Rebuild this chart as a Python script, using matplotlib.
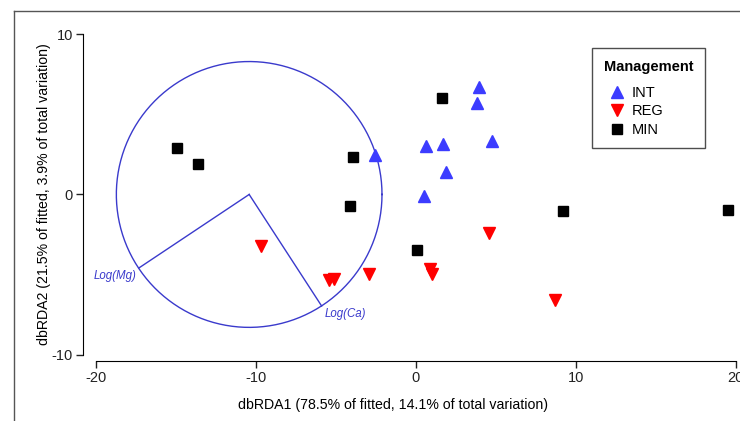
import matplotlib.pyplot as plt
from matplotlib.lines import Line2D
import numpy as np

plt.rcParams['font.family'] = ['Liberation Sans', 'DejaVu Sans']
plt.rcParams['axes.unicode_minus'] = False

# datos
int_x = [3.96, 3.83, 0.62, 1.73, 4.79, 1.87, 0.54, -2.54]
int_y = [6.68, 5.73, 3.02, 3.14, 3.35, 1.39, -0.10, 2.46]

reg_x = [-9.63, -5.40, -5.09, -2.92, 0.90, 1.00, 4.60, 8.71]
reg_y = [-3.21, -5.36, -5.25, -4.94, -4.65, -4.95, -2.38, -6.56]

min_x = [-14.92, -13.59, -3.90, -4.10, 1.66, 0.10, 9.19, 19.54]
min_y = [2.89, 1.89, 2.33, -0.73, 6.00, -3.48, -1.02, -0.98]

centro = (-10.4, 0.0)
radio = 8.3
vectores = ["Log(Mg)", "Log(Ca)"]
vec_x = [-17.29, -5.875]
vec_y = [-4.59, -6.96]

fig = plt.figure(figsize=(7.4, 4.21), dpi=100)
ax = fig.add_axes([0.1118, 0.1425, 0.8882, 0.7912])

azul_circ = "#3a3acc"
t = np.linspace(0, 2 * np.pi, 400)
ax.plot(centro[0] + radio * np.cos(t), centro[1] + radio * np.sin(t), color=azul_circ, lw=1)
for vx, vy in zip(vec_x, vec_y):
    ax.plot([centro[0], vx], [centro[1], vy], color=azul_circ, lw=1)
ax.text(vec_x[0] - 0.15, vec_y[0] - 0.5, vectores[0], color=azul_circ, fontsize=8.3,
        style="italic", ha="right", va="center")
ax.text(vec_x[1] + 0.2, vec_y[1] - 0.52, vectores[1], color=azul_circ, fontsize=8.3,
        style="italic", ha="left", va="center")

ax.plot(int_x, int_y, "^", color="#3c3cff", ms=8, ls="none", label="INT")
ax.plot(reg_x, reg_y, "v", color="#ff0000", ms=8, ls="none", label="REG")
ax.plot(min_x, min_y, "s", color="black", ms=7, ls="none", label="MIN")

ax.set_xlim(-20.8, 20.27)
ax.set_ylim(-10.4, 10.4)
ax.set_xticks([-20, -10, 0, 10, 20])
ax.set_yticks([-10, 0, 10])
ax.spines["top"].set_visible(False)
ax.spines["right"].set_visible(False)
ax.spines["left"].set_bounds(-10, 10)
ax.spines["bottom"].set_bounds(-20, 20)
ax.tick_params(labelsize=10.5, length=5, width=1, colors="#222222", pad=2)
ax.set_xlabel("dbRDA1 (78.5% of fitted, 14.1% of total variation)", fontsize=10.2)
ax.set_ylabel("dbRDA2 (21.5% of fitted, 3.9% of total variation)", fontsize=10.2)
ax.xaxis.set_label_coords(0.472, -0.112)
ax.yaxis.set_label_coords(-0.048, 0.5)

leg = ax.legend(title="Management", loc="upper left", bbox_to_anchor=(0.775, 0.94),
                fontsize=10.5, title_fontsize=10.5, frameon=True, fancybox=False,
                edgecolor="#222222", handletextpad=0.1, handlelength=1.8,
                borderpad=0.8, labelspacing=0.3, borderaxespad=0,
                alignment="left")
leg.get_title().set_fontweight("bold")
leg.get_frame().set_linewidth(1)
leg._legend_box.sep = 9

# marco de la figura
fig.add_artist(Line2D([14 / 740, 14 / 740], [0, 1 - 11 / 421], color="#555555", lw=1))
fig.add_artist(Line2D([14 / 740, 1], [1 - 11 / 421, 1 - 11 / 421], color="#555555", lw=1))

fig.savefig("out.png", dpi=100)
